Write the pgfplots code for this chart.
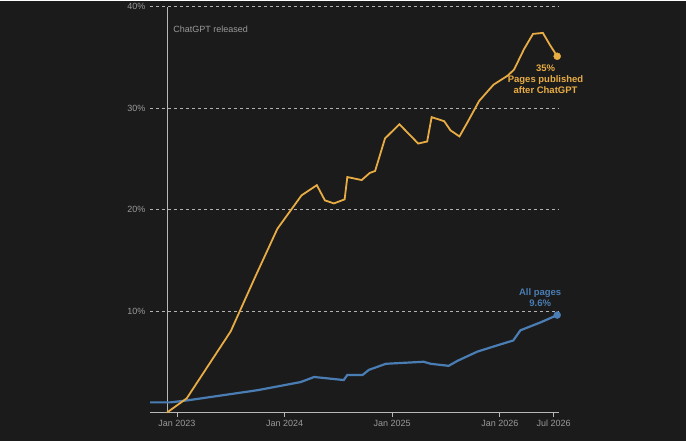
\documentclass[border=0pt]{standalone}
\usepackage{pgfplots}
\pgfplotsset{compat=1.18}
\usepackage{fontspec}
\setmainfont{Liberation Sans}
\definecolor{bg}{HTML}{1B1B1B}
\definecolor{gold}{HTML}{E8AC45}
\definecolor{blu}{HTML}{4A7DB3}
\definecolor{txt}{HTML}{9A9A9A}
\begin{document}
\begin{tikzpicture}[x=1pt,y=1pt]
\fill[bg] (0,0) rectangle (686,440);
\begin{axis}[at={(150pt,28pt)},anchor=south west,scale only axis,width=409pt,height=406pt,
 xmin=-3,xmax=42.6,ymin=0,ymax=40,
 axis line style={draw=none},
 axis x line*=bottom, x axis line style={draw=txt!70,line width=0.8pt},
 ytick={10,20,30,40},yticklabels={10\%,20\%,30\%,40\%},
 ymajorgrids, grid style={dashed,draw=gray!60,line width=0.5pt},
 ytick style={draw=none},
 xtick={0,12,24,36,42},xticklabels={Jan 2023,Jan 2024,Jan 2025,Jan 2026,Jul 2026},
 xtick style={draw=txt!70,line width=0.8pt}, tick align=outside, major tick length=4pt,
 ticklabel style={font=\fontsize{9}{10}\selectfont,text=txt},
 yticklabel style={xshift=3pt},
 /pgf/number format/assume math mode=true,
 clip=false]
\draw[txt!70,line width=0.8pt] (axis cs:-1.1,0) -- (axis cs:-1.1,40);
\node[anchor=west,font=\fontsize{9}{10}\selectfont,text=txt] at (axis cs:-0.8,37.8) {ChatGPT released};
\addplot[blu,line width=2.2pt] coordinates {(-3,1.0)(-0.7,1.0)(1.2,1.2)(9,2.2)(13.8,3.0)(15.3,3.5)(18.6,3.2)(19,3.7)(20.7,3.7)(21.4,4.2)(23.3,4.8)(27.5,5.0)(28.3,4.8)(30.3,4.6)(31.3,5.1)(33.5,6.0)(35.3,6.5)(37.5,7.1)(38.3,8.1)(40.6,8.9)(42.4,9.6)};
\addplot[gold,line width=1.8pt] coordinates {(-1.1,0)(1.1,1.4)(6,8)(8.8,13.5)(11.2,18.1)(13.9,21.4)(15.6,22.4)(16.5,20.9)(17.5,20.6)(18.7,21)(19,23.2)(20.6,22.9)(21.5,23.6)(22.1,23.8)(23.2,27)(24.8,28.4)(25.8,27.5)(26.9,26.5)(27.9,26.7)(28.4,29.1)(29.8,28.7)(30.5,27.8)(31.5,27.2)(32.4,28.6)(33.7,30.7)(35.3,32.3)(36.9,33.2)(37.6,33.8)(38.7,35.8)(39.7,37.3)(40.8,37.4)(41.6,36.2)(42.4,35.1)};
\addplot[only marks,mark=*,mark size=3.5pt,gold] coordinates {(42.4,35.1)};
\addplot[only marks,mark=*,mark size=3.5pt,blu] coordinates {(42.4,9.6)};
\node[font=\fontsize{9.5}{11}\selectfont\bfseries,text=gold,align=center,anchor=north] at (axis cs:41.1,34.6) {35\%\\Pages published\\after ChatGPT};
\node[font=\fontsize{9.5}{11}\selectfont\bfseries,text=blu,align=center,anchor=south] at (axis cs:40.5,10.1) {All pages\\9.6\%};
\end{axis}
\end{tikzpicture}
\end{document}
